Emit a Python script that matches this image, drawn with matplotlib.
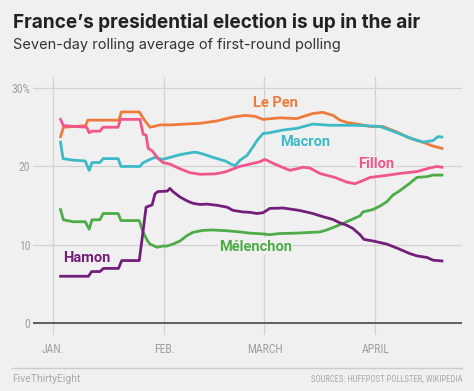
import matplotlib.pyplot as plt

# day 0 = Jan 1
lepen_d = [2, 2.8, 9, 9.6, 18.3, 19, 24, 25.3, 27, 30, 33, 41, 45.7, 50.2, 53.5, 56.3, 58.6, 63.3, 68,
           72.5, 75.3, 78.2, 80.1, 82.1, 85.7, 88.5, 92, 96, 99.6, 103.2, 106.1, 108.6]
lepen_v = [23.8, 25.0, 25.2, 25.9, 25.9, 26.95, 26.95, 26.0, 25.0, 25.3, 25.3, 25.5, 25.8, 26.3, 26.5, 26.4,
           26.0, 26.2, 26.1, 26.75, 26.9, 26.5, 25.9, 25.6, 25.35, 25.1, 25.1, 24.4, 23.6, 23.1, 22.6, 22.3]

macron_d = [2, 2.7, 5.5, 8.9, 10, 10.8, 13, 13.9, 18.1, 18.9, 24.2, 25, 27, 28.4, 30.6, 32.6, 35.4, 39,
            40.1, 42.4, 44.6, 48, 49.9, 50.8, 52.2, 54.1, 55.8, 56.9, 58.6, 60.5, 64.2, 68, 72.5, 77.3,
            84.8, 91.3, 96, 100.5, 103.3, 106.1, 107.5, 108.6]
macron_v = [23.1, 21.0, 20.8, 20.7, 19.5, 20.5, 20.5, 21.0, 21.0, 20.0, 20.0, 20.45, 20.9, 21.15, 20.9,
            21.15, 21.5, 21.8, 21.8, 21.5, 21.15, 20.7, 20.25, 20.1, 20.8, 21.4, 22.5, 23.3, 24.2, 24.3,
            24.65, 24.85, 25.4, 25.25, 25.25, 25.1, 24.3, 23.5, 23.1, 23.3, 23.8, 23.75]

fillon_d = [2, 2.8, 9.3, 10, 10.8, 13, 13.9, 18.1, 18.7, 24.2, 25.1, 25.9, 26.5, 27.6, 29.3, 30.6, 32.6,
            35.4, 38.2, 41, 45.2, 48, 52.1, 54.9, 57.7, 59.1, 60.5, 61.9, 66.1, 68, 69.8, 71.7, 74.5,
            78.7, 82, 84.3, 86, 88.5, 92.1, 96.8, 101.6, 105.2, 107.2, 108.6]
fillon_v = [26.0, 25.2, 25.0, 24.3, 24.5, 24.5, 25.0, 25.0, 26.0, 26.0, 24.1, 24.0, 22.3, 22.0, 21.0,
            20.5, 20.3, 19.7, 19.2, 19.0, 19.05, 19.3, 20.0, 20.3, 20.6, 20.9, 20.6, 20.3, 19.5, 19.7,
            19.9, 19.8, 19.1, 18.6, 18.0, 17.8, 18.1, 18.6, 18.8, 19.1, 19.35, 19.8, 20.0, 19.9]

hamon_d = [2, 9.8, 10.7, 13, 14, 18.2, 19.1, 24, 25, 25.9, 27, 27.6, 28.4, 29.2, 31.8, 32.6, 33.4, 35.4,
           37.4, 39, 41, 42.9, 45.7, 48.6, 50.2, 53, 54.9, 56.9, 58.6, 60.5, 64.2, 68, 69.7, 72.5, 75.3,
           78.1, 80.1, 82, 83.7, 85.7, 86.8, 89.3, 93.2, 96, 99.6, 101.6, 104.4, 106.1, 108.6]
hamon_v = [6.0, 6.0, 6.6, 6.6, 7.0, 7.0, 8.0, 8.0, 11.5, 14.8, 15.0, 15.1, 16.5, 16.8, 16.85, 17.2, 16.8,
           16.1, 15.6, 15.3, 15.15, 15.2, 15.05, 14.8, 14.4, 14.2, 14.15, 14.0, 14.1, 14.65, 14.7, 14.45,
           14.3, 14.0, 13.6, 13.25, 12.8, 12.5, 12.1, 11.3, 10.7, 10.5, 10.1, 9.6, 8.9, 8.6, 8.4, 8.05, 7.95]

melen_d = [2, 2.8, 5.5, 8.9, 10, 10.8, 13, 13.9, 18.1, 18.9, 24, 25, 26.2, 27, 29, 30.6, 31.8, 33.4, 35.4,
           37.4, 39, 41.8, 44.6, 48.5, 52.1, 54.9, 58.6, 60.5, 63.3, 68, 74.5, 76.4, 79.2, 82, 83.7, 85.7,
           86.5, 89.3, 91.3, 93.2, 94.9, 96.8, 99.6, 101.6, 104.4, 106.1, 108.6]
melen_v = [14.5, 13.2, 12.95, 12.95, 12.0, 13.2, 13.2, 14.0, 14.0, 13.1, 13.1, 11.7, 10.6, 10.1, 9.7, 9.85,
           9.85, 10.1, 10.5, 11.2, 11.6, 11.85, 11.9, 11.8, 11.65, 11.5, 11.4, 11.3, 11.45, 11.5, 11.65,
           11.9, 12.4, 12.95, 13.3, 13.7, 14.2, 14.5, 14.95, 15.5, 16.35, 16.9, 17.85, 18.6, 18.7, 18.9, 18.9]

month_days = [0, 31, 59, 90]
month_labels = ['JAN.', 'FEB.', 'MARCH', 'APRIL']
y_ticks = [0, 10, 20, 30]
y_labels = ['0', '10', '20', '30%']

bg = '#f0f0f0'
c_lepen = '#ee7b3c'
c_macron = '#3cbac6'
c_fillon = '#f0568b'
c_hamon = '#731f7a'
c_melen = '#4dac47'

narrow = ['Roboto Condensed', 'Liberation Sans Narrow', 'DejaVu Sans']

fig = plt.figure(figsize=(4.74, 3.91), dpi=100, facecolor=bg)
ax = fig.add_axes([0.0696, 0.143, 0.905, 0.66], facecolor=bg)

ax.plot(lepen_d, lepen_v, color=c_lepen, lw=2, zorder=3)
ax.plot(macron_d, macron_v, color=c_macron, lw=2, zorder=3)
ax.plot(fillon_d, fillon_v, color=c_fillon, lw=2, zorder=3)
ax.plot(melen_d, melen_v, color=c_melen, lw=2, zorder=3)
ax.plot(hamon_d, hamon_v, color=c_hamon, lw=2, zorder=3)

ax.set_xlim(-5.7, 114.2)
ax.set_ylim(-1.5, 31.4)
ax.set_xticks(month_days)
ax.set_xticklabels(month_labels)
ax.set_yticks(y_ticks)
ax.set_yticklabels(y_labels)
ax.grid(True, color='#d2d2d2', lw=0.9, zorder=0)
ax.axhline(0, color='#555555', lw=1.3, zorder=2)
for s in ax.spines.values():
    s.set_visible(False)
ax.tick_params(length=0, colors='#a0a0a0', labelsize=8.5, pad=2)
ax.tick_params(axis='x', pad=6)
for lab in ax.get_xticklabels() + ax.get_yticklabels():
    lab.set_family(narrow)

box = dict(facecolor=bg, edgecolor='none', pad=1)
lkw = dict(fontsize=10.5, fontweight='bold', ha='center', va='center', zorder=2, family='Roboto')
ax.text(62.2, 28.1, 'Le Pen', color=c_lepen, **lkw)
ax.text(70.3, 23.1, 'Macron', color=c_macron, **lkw)
ax.text(90.3, 20.3, 'Fillon', color=c_fillon, bbox=box, **lkw)
ax.text(56.5, 9.75, 'Mélenchon', color=c_melen, bbox=box, **lkw)
ax.text(9.3, 8.35, 'Hamon', color=c_hamon, **lkw)

fig.text(13 / 474, 1 - 22 / 391, 'France’s presidential election is up in the air',
         fontsize=13.7, fontweight='bold', color='#222222', va='center', family='Inter')
fig.text(13 / 474, 1 - 45 / 391, 'Seven-day rolling average of first-round polling',
         fontsize=10.5, color='#333333', va='center', family='Inter')

fig.add_artist(plt.Line2D([12 / 474, 462 / 474], [1 - 368 / 391] * 2, color='#cccccc', lw=1))
fig.text(12 / 474, 1 - 379 / 391, 'FiveThirtyEight', fontsize=7.5, color='#aaaaaa', va='center',
         family='Roboto')
fig.text(462 / 474, 1 - 379 / 391, 'SOURCES: HUFFPOST POLLSTER, WIKIPEDIA', fontsize=6.2,
         color='#aaaaaa', va='center', ha='right', family=narrow)

fig.savefig('out.png', dpi=100, facecolor=bg)
